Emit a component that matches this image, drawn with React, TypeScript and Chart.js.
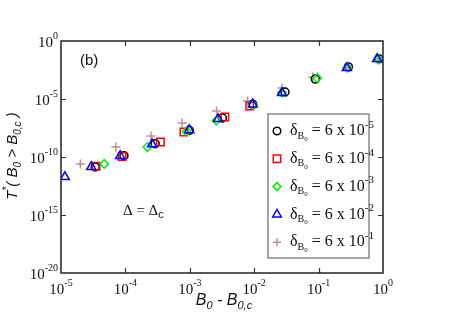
import React, { useEffect, useRef } from "react";
import { Chart, registerables } from "chart.js";

Chart.register(...registerables);

// Series: δB0 = 6e-5 (circles)
const circleX = [3.4e-5, 9.5e-5, 2.9e-4, 9.8e-4, 3.2e-3, 9.5e-3, 3.0e-2, 8.9e-2, 2.9e-1, 8.7e-1];
const circleY = [1.4e-11, 1.3e-10, 1.4e-9, 2.0e-8, 2.3e-7, 3.5e-6, 4.0e-5, 5.2e-4, 5.8e-3, 2.8e-2];
// δB0 = 6e-4 (squares)
const squareX = [3.5e-5, 8.9e-5, 3.5e-4, 8.1e-4, 3.5e-3, 8.5e-3];
const squareY = [1.6e-11, 1.1e-10, 2.0e-9, 1.4e-8, 2.8e-7, 2.5e-6];
// δB0 = 6e-3 (diamonds)
const diamondX = [4.7e-5, 2.2e-4, 8.9e-4, 2.6e-3, 9.5e-3, 2.7e-2, 9.5e-2, 2.8e-1, 8.5e-1];
const diamondY = [2.5e-11, 7.2e-10, 1.6e-8, 1.4e-7, 3.2e-6, 3.5e-5, 6.5e-4, 5.0e-3, 2.5e-2];
// δB0 = 6e-2 (triangles)
const triangleX = [1.15e-5, 2.95e-5, 8.3e-5, 2.6e-4, 9.8e-4, 2.75e-3, 9.5e-3, 2.7e-2, 2.75e-1, 8.1e-1];
const triangleY = [1.9e-12, 1.4e-11, 1.26e-10, 1.26e-9, 2.1e-8, 1.9e-7, 3.5e-6, 3.3e-5, 4.7e-3, 2.8e-2];
// δB0 = 6e-1 (plus)
const plusX = [2.0e-5, 7.1e-5, 2.5e-4, 7.6e-4, 2.6e-3, 7.9e-3, 2.7e-2, 8.1e-2, 2.75e-1, 8.5e-1];
const plusY = [2.5e-11, 7.2e-10, 6.5e-9, 8.5e-8, 9.3e-7, 6.8e-6, 8.9e-5, 7.9e-4, 5.0e-3, 2.8e-2];

const legendExponents = ["-5", "-4", "-3", "-2", "-1"];
const xTickExps = [-5, -4, -3, -2, -1, 0];
const yTickExps = [0, -5, -10, -15, -20];

const SERIF = '"Liberation Serif", "DejaVu Serif", serif';
const SANS = '"Liberation Sans", Arial, sans-serif';

type Run = { t: string; f: string; dy?: number };

function drawRuns(ctx: CanvasRenderingContext2D, runs: Run[], x: number, y: number, align: "left" | "center" | "right") {
  let total = 0;
  const widths = runs.map((r) => {
    ctx.font = r.f;
    const w = ctx.measureText(r.t).width;
    total += w;
    return w;
  });
  let cx = align === "left" ? x : align === "center" ? x - total / 2 : x - total;
  ctx.textAlign = "left";
  runs.forEach((r, i) => {
    ctx.font = r.f;
    ctx.fillText(r.t, cx, y + (r.dy || 0));
    cx += widths[i];
  });
}

function drawMarker(ctx: CanvasRenderingContext2D, kind: string, x: number, y: number, color: string) {
  ctx.save();
  ctx.strokeStyle = color;
  ctx.lineWidth = 1.5;
  ctx.beginPath();
  if (kind === "circle") {
    ctx.arc(x, y, 3.8, 0, Math.PI * 2);
  } else if (kind === "rect") {
    ctx.rect(x - 3.7, y - 3.7, 7.4, 7.4);
  } else if (kind === "rectRot") {
    ctx.moveTo(x - 4, y);
    ctx.lineTo(x, y - 4);
    ctx.lineTo(x + 4, y);
    ctx.lineTo(x, y + 4);
    ctx.closePath();
  } else if (kind === "triangle") {
    for (let k = 0; k < 3; k++) {
      const a = (k * 2 * Math.PI) / 3;
      const px = x + Math.sin(a) * 5;
      const py = y - Math.cos(a) * 5;
      if (k === 0) ctx.moveTo(px, py);
      else ctx.lineTo(px, py);
    }
    ctx.closePath();
  } else {
    ctx.moveTo(x - 4, y);
    ctx.lineTo(x + 4, y);
    ctx.moveTo(x, y - 4);
    ctx.lineTo(x, y + 4);
  }
  ctx.stroke();
  ctx.restore();
}

const series = [
  { xs: circleX, ys: circleY, style: "circle", color: "#000000", radius: 4, order: 3 },
  { xs: squareX, ys: squareY, style: "rect", color: "#ff0000", radius: 5.3, order: 2 },
  { xs: diamondX, ys: diamondY, style: "rectRot", color: "#00ee00", radius: 4.3, order: 1 },
  { xs: triangleX, ys: triangleY, style: "triangle", color: "#0000ff", radius: 5.2, order: 0 },
  { xs: plusX, ys: plusY, style: "cross", color: "#bc8f8f", radius: 4.5, order: 4 },
];

const decorPlugin = {
  id: "decor",
  afterDraw(chart: any) {
    const ctx: CanvasRenderingContext2D = chart.ctx;
    const { left, right, top, bottom } = chart.chartArea;
    const xs = chart.scales.x;
    const ys = chart.scales.y;
    ctx.save();
    // ticks
    ctx.strokeStyle = "#333";
    ctx.lineWidth = 1.2;
    ctx.beginPath();
    xTickExps.forEach((e) => {
      const px = Math.round(xs.getPixelForValue(Math.pow(10, e))) + 0.5;
      if (e > -5 && e < 0) {
        ctx.moveTo(px, bottom);
        ctx.lineTo(px, bottom - 5);
        ctx.moveTo(px, top);
        ctx.lineTo(px, top + 5);
      }
    });
    yTickExps.forEach((e) => {
      const py = Math.round(ys.getPixelForValue(Math.pow(10, e))) + 0.5;
      if (e < 0 && e > -20) {
        ctx.moveTo(left, py);
        ctx.lineTo(left + 5, py);
        ctx.moveTo(right, py);
        ctx.lineTo(right - 5, py);
      }
    });
    ctx.stroke();
    // frame
    ctx.strokeStyle = "#222";
    ctx.lineWidth = 1.5;
    ctx.strokeRect(left, top, right - left, bottom - top);

    ctx.fillStyle = "#111";
    ctx.textBaseline = "middle";
    // x tick labels
    xTickExps.forEach((e) => {
      const px = xs.getPixelForValue(Math.pow(10, e));
      drawRuns(
        ctx,
        [
          { t: "10", f: `15px ${SERIF}` },
          { t: e === 0 ? "0" : String(e), f: `10px ${SERIF}`, dy: -7 },
        ],
        px,
        bottom + 17,
        "center"
      );
    });
    // y tick labels
    yTickExps.forEach((e) => {
      const py = ys.getPixelForValue(Math.pow(10, e));
      drawRuns(
        ctx,
        [
          { t: "10", f: `15px ${SERIF}` },
          { t: e === 0 ? "0" : String(e), f: `10px ${SERIF}`, dy: -7 },
        ],
        left - 3,
        py + 2,
        "right"
      );
    });

    // x title
    ctx.textBaseline = "alphabetic";
    drawRuns(
      ctx,
      [
        { t: "B", f: `italic 16px ${SANS}` },
        { t: "0", f: `italic 11px ${SANS}`, dy: 4 },
        { t: " - ", f: `italic 16px ${SANS}` },
        { t: "B", f: `italic 16px ${SANS}` },
        { t: "0,c", f: `italic 11px ${SANS}`, dy: 4 },
      ],
      224,
      305,
      "center"
    );
    // y title
    ctx.save();
    ctx.translate(17, 156);
    ctx.rotate(-Math.PI / 2);
    drawRuns(
      ctx,
      [
        { t: "T", f: `italic 15px ${SANS}` },
        { t: "*", f: `italic 10px ${SANS}`, dy: -7 },
        { t: "( ", f: `italic 15px ${SANS}` },
        { t: "B", f: `italic 15px ${SANS}` },
        { t: "0", f: `italic 10px ${SANS}`, dy: 4 },
        { t: " > ", f: `italic 15px ${SANS}` },
        { t: "B", f: `italic 15px ${SANS}` },
        { t: "0,c", f: `italic 10px ${SANS}`, dy: 4 },
        { t: " )", f: `italic 15px ${SANS}` },
      ],
      0,
      0,
      "center"
    );
    ctx.restore();

    // (b) label
    ctx.textBaseline = "middle";
    drawRuns(ctx, [{ t: "(b)", f: `15px ${SANS}` }], 80, 61, "left");
    // Δ = Δc
    drawRuns(
      ctx,
      [
        { t: "Δ = Δ", f: `15px ${SERIF}` },
        { t: "c", f: `11px ${SANS}`, dy: 4 },
      ],
      123,
      211,
      "left"
    );

    // legend box
    const lx = 268, ly = 114, lw = 101, lh = 144;
    ctx.fillStyle = "#ffffff";
    ctx.fillRect(lx, ly, lw, lh);
    ctx.strokeStyle = "#888";
    ctx.lineWidth = 1.5;
    ctx.strokeRect(lx, ly, lw, lh);
    ctx.fillStyle = "#111";
    series.forEach((s, i) => {
      const y = 131 + i * 27.8;
      drawMarker(ctx, s.style, 277, y, s.color);
      drawRuns(
        ctx,
        [
          { t: "δ", f: `16px ${SERIF}` },
          { t: "B", f: `10px ${SERIF}`, dy: 5 },
          { t: "0", f: `7px ${SERIF}`, dy: 8 },
          { t: " = 6 x 10", f: `16px ${SERIF}` },
          { t: legendExponents[i], f: `11px ${SERIF}`, dy: -6 },
        ],
        290,
        y,
        "left"
      );
    });
    ctx.restore();
  },
};

export default function App() {
  const ref = useRef<HTMLCanvasElement | null>(null);
  useEffect(() => {
    if (!ref.current) return;
    const chart = new Chart(ref.current, {
      type: "scatter",
      data: {
        datasets: series.map((s, i) => ({
          label: "δB0 = 6 x 10" + legendExponents[i],
          data: s.xs.map((x, j) => ({ x, y: s.ys[j] })),
          pointStyle: s.style as any,
          pointRadius: s.radius,
          pointBorderWidth: 1.5,
          borderColor: s.color,
          backgroundColor: "rgba(0,0,0,0)",
          pointBackgroundColor: "rgba(0,0,0,0)",
          order: s.order,
        })),
      },
      options: {
        responsive: false,
        animation: false,
        devicePixelRatio: 1,
        layout: { padding: { left: 61, top: 41, right: 74, bottom: 50 } },
        plugins: { legend: { display: false }, tooltip: { enabled: false } },
        scales: {
          x: { type: "logarithmic", min: 1e-5, max: 1, display: false },
          y: { type: "logarithmic", min: 1e-20, max: 1, display: false },
        },
      },
      plugins: [decorPlugin],
    });
    return () => chart.destroy();
  }, []);
  return (
    <div style={{ position: "absolute", left: 0, top: 0, width: 457, height: 323, background: "#fff" }}>
      <canvas ref={ref} width={457} height={323} />
    </div>
  );
}
